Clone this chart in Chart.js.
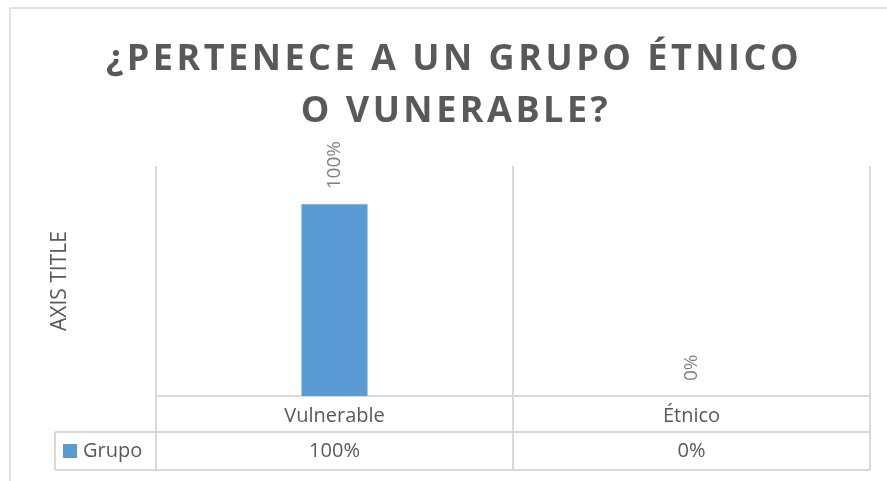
<!DOCTYPE html>
<html>
<head>
<meta charset="utf-8">
<script src="https://cdn.jsdelivr.net/npm/chart.js@4/dist/chart.umd.min.js"></script>
<style>
  html, body { margin: 0; padding: 0; background: #fff; }
  #wrap { width: 887px; height: 481px; }
</style>
</head>
<body>
<div id="wrap"><canvas id="grupoChart" width="887" height="481"></canvas></div>
<script>
// data
const titleLines = ['¿PERTENECE A UN GRUPO ÉTNICO', 'O VUNERABLE?'];
const categories = ['Vulnerable', 'Étnico'];
const seriesName = 'Grupo';
const grupoValues = [1, 0];
const yAxisTitle = 'AXIS TITLE';

const barColor = '#5b9bd5';
const lineColor = '#d9d9d9';
const textColor = '#595959';
const FONT = "'Open Sans', sans-serif";

function pct(v) {
    return Math.round(v * 100) + '%';
}

// outer frame + title
const framePlugin = {
    id: 'frame',
    beforeDraw(chart) {
        const ctx = chart.ctx;
        ctx.save();
        ctx.strokeStyle = lineColor;
        ctx.lineWidth = 1.5;
        ctx.strokeRect(10, 8, 900, 500);

        ctx.fillStyle = textColor;
        ctx.font = 'bold 36px ' + FONT;
        ctx.letterSpacing = '3.5px';
        ctx.textAlign = 'center';
        ctx.textBaseline = 'alphabetic';
        ctx.fillText(titleLines[0], 454, 70);
        ctx.fillText(titleLines[1], 456, 122);
        ctx.restore();
    }
};

// rotated value labels above bars
const labelPlugin = {
    id: 'barLabels',
    afterDatasetsDraw(chart) {
        const ctx = chart.ctx;
        const meta = chart.getDatasetMeta(0);
        ctx.save();
        ctx.fillStyle = '#808080';
        ctx.font = '19px ' + FONT;
        ctx.textAlign = 'left';
        ctx.textBaseline = 'middle';
        meta.data.forEach((bar, i) => {
            ctx.save();
            ctx.translate(bar.x, bar.y - 15);
            ctx.rotate(-Math.PI / 2);
            ctx.fillText(pct(grupoValues[i]), 0, 0);
            ctx.restore();
        });
        ctx.restore();
    }
};

// data table under the x axis
const tablePlugin = {
    id: 'dataTable',
    afterDraw(chart) {
        const ctx = chart.ctx;
        const xs = chart.scales.x;
        const area = chart.chartArea;
        const step = xs.getPixelForValue(1) - xs.getPixelForValue(0);
        const row1 = area.bottom;
        const row2 = row1 + 36;
        const row3 = row2 + 38;
        const keyLeft = 55;

        ctx.save();
        ctx.strokeStyle = lineColor;
        ctx.lineWidth = 2;
        ctx.beginPath();
        // horizontal lines
        ctx.moveTo(keyLeft, row2); ctx.lineTo(area.right, row2);
        ctx.moveTo(keyLeft, row3); ctx.lineTo(area.right, row3);
        ctx.moveTo(keyLeft, row2); ctx.lineTo(keyLeft, row3);
        // vertical lines on category bounds
        for (let i = 0; i <= categories.length; i++) {
            const x = xs.getPixelForValue(0) - step / 2 + i * step;
            ctx.moveTo(x, row1); ctx.lineTo(x, row3);
        }
        ctx.stroke();

        // legend key
        const midY = (row2 + row3) / 2;
        ctx.fillStyle = barColor;
        ctx.fillRect(63, midY - 7, 14, 14);
        ctx.fillStyle = textColor;
        ctx.font = '20px ' + FONT;
        ctx.textBaseline = 'middle';
        ctx.textAlign = 'left';
        ctx.fillText(seriesName, 83, midY);

        ctx.textAlign = 'center';
        grupoValues.forEach((v, i) => {
            ctx.fillText(pct(v), xs.getPixelForValue(i), midY);
        });
        ctx.restore();
    }
};

const ctx = document.getElementById('grupoChart').getContext('2d');
new Chart(ctx, {
    type: 'bar',
    data: {
        labels: categories,
        datasets: [{
            label: seriesName,
            data: grupoValues,
            backgroundColor: barColor,
            barPercentage: 0.185,
            categoryPercentage: 1
        }]
    },
    options: {
        responsive: false,
        animation: false,
        devicePixelRatio: 1,
        layout: {
            padding: { top: 166, right: 17, bottom: 11, left: 47 }
        },
        scales: {
            x: {
                grid: { color: lineColor, lineWidth: 2, drawTicks: false },
                border: { color: lineColor, width: 2 },
                ticks: {
                    color: textColor,
                    font: { family: FONT, size: 20 },
                    padding: 8
                },
                afterFit(scale) { scale.height = 74; }
            },
            y: {
                min: 0,
                max: 1.2,
                ticks: { display: false },
                grid: { display: false },
                border: { display: false },
                title: {
                    display: true,
                    text: yAxisTitle,
                    color: textColor,
                    font: { family: FONT, size: 21 },
                    padding: 0
                },
                afterFit(scale) { scale.width = 109; }
            }
        },
        plugins: {
            legend: { display: false },
            tooltip: { enabled: false }
        }
    },
    plugins: [framePlugin, labelPlugin, tablePlugin]
});
</script>
</body>
</html>
